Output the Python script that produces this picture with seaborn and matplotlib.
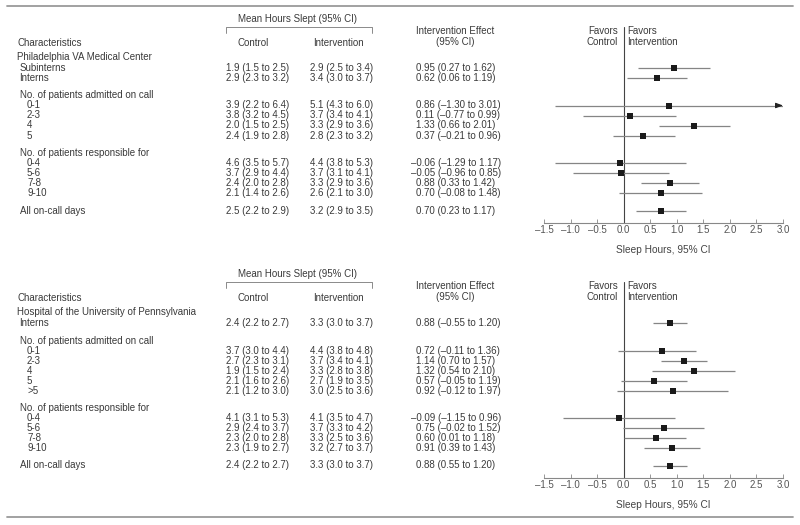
import numpy as np
import pandas as pd
import matplotlib
matplotlib.use("Agg")
import matplotlib.pyplot as plt
import seaborn as sns

# %% Data
va_name = "Philadelphia VA Medical Center"
va_groups = [
    (None, ["Subinterns", "Interns"]),
    ("No. of patients admitted on call", ["0-1", "2-3", "4", "5"]),
    ("No. of patients responsible for", ["0-4", "5-6", "7-8", "9-10"]),
    (None, ["All on-call days"]),
]
va_control = ["1.9 (1.5 to 2.5)", "2.9 (2.3 to 3.2)",
              "3.9 (2.2 to 6.4)", "3.8 (3.2 to 4.5)", "2.0 (1.5 to 2.5)", "2.4 (1.9 to 2.8)",
              "4.6 (3.5 to 5.7)", "3.7 (2.9 to 4.4)", "2.4 (2.0 to 2.8)", "2.1 (1.4 to 2.6)",
              "2.5 (2.2 to 2.9)"]
va_intervention = ["2.9 (2.5 to 3.4)", "3.4 (3.0 to 3.7)",
                   "5.1 (4.3 to 6.0)", "3.7 (3.4 to 4.1)", "3.3 (2.9 to 3.6)", "2.8 (2.3 to 3.2)",
                   "4.4 (3.8 to 5.3)", "3.7 (3.1 to 4.1)", "3.3 (2.9 to 3.6)", "2.6 (2.1 to 3.0)",
                   "3.2 (2.9 to 3.5)"]
va_effect_text = ["0.95 (0.27 to 1.62)", "0.62 (0.06 to 1.19)",
                  "0.86 (–1.30 to 3.01)", "0.11 (–0.77 to 0.99)", "1.33 (0.66 to 2.01)",
                  "0.37 (–0.21 to 0.96)",
                  "–0.06 (–1.29 to 1.17)", "–0.05 (–0.96 to 0.85)", "0.88 (0.33 to 1.42)",
                  "0.70 (–0.08 to 1.48)",
                  "0.70 (0.23 to 1.17)"]
va_est = [0.95, 0.62, 0.86, 0.11, 1.33, 0.37, -0.06, -0.05, 0.88, 0.70, 0.70]
va_lo = [0.27, 0.06, -1.30, -0.77, 0.66, -0.21, -1.29, -0.96, 0.33, -0.08, 0.23]
va_hi = [1.62, 1.19, 3.01, 0.99, 2.01, 0.96, 1.17, 0.85, 1.42, 1.48, 1.17]

penn_name = "Hospital of the University of Pennsylvania"
penn_groups = [
    (None, ["Interns"]),
    ("No. of patients admitted on call", ["0-1", "2-3", "4", "5", ">5"]),
    ("No. of patients responsible for", ["0-4", "5-6", "7-8", "9-10"]),
    (None, ["All on-call days"]),
]
penn_control = ["2.4 (2.2 to 2.7)",
                "3.7 (3.0 to 4.4)", "2.7 (2.3 to 3.1)", "1.9 (1.5 to 2.4)", "2.1 (1.6 to 2.6)",
                "2.1 (1.2 to 3.0)",
                "4.1 (3.1 to 5.3)", "2.9 (2.4 to 3.7)", "2.3 (2.0 to 2.8)", "2.3 (1.9 to 2.7)",
                "2.4 (2.2 to 2.7)"]
penn_intervention = ["3.3 (3.0 to 3.7)",
                     "4.4 (3.8 to 4.8)", "3.7 (3.4 to 4.1)", "3.3 (2.8 to 3.8)", "2.7 (1.9 to 3.5)",
                     "3.0 (2.5 to 3.6)",
                     "4.1 (3.5 to 4.7)", "3.7 (3.3 to 4.2)", "3.3 (2.5 to 3.6)", "3.2 (2.7 to 3.7)",
                     "3.3 (3.0 to 3.7)"]
penn_effect_text = ["0.88 (–0.55 to 1.20)",
                    "0.72 (–0.11 to 1.36)", "1.14 (0.70 to 1.57)", "1.32 (0.54 to 2.10)",
                    "0.57 (–0.05 to 1.19)", "0.92 (–0.12 to 1.97)",
                    "–0.09 (–1.15 to 0.96)", "0.75 (–0.02 to 1.52)", "0.60 (0.01 to 1.18)",
                    "0.91 (0.39 to 1.43)",
                    "0.88 (0.55 to 1.20)"]
penn_est = [0.88, 0.72, 1.14, 1.32, 0.57, 0.92, -0.09, 0.75, 0.60, 0.91, 0.88]
penn_lo = [0.55, -0.11, 0.70, 0.54, -0.05, -0.12, -1.15, -0.02, 0.01, 0.39, 0.55]
penn_hi = [1.20, 1.36, 1.57, 2.10, 1.19, 1.97, 0.96, 1.52, 1.18, 1.43, 1.20]

xticks = [-1.5, -1.0, -0.5, 0.0, 0.5, 1.0, 1.5, 2.0, 2.5, 3.0]

# %% Style
sns.set_theme(style="white")
plt.rcParams['font.family'] = ['Liberation Sans', 'DejaVu Sans']
TXT = "#3a3a3a"
FS = 7

W, H = 800, 525
fig = plt.figure(figsize=(W / 100, H / 100), dpi=100)


def fx(px):
    return px / W


def fy(py):
    return 1 - py / H


def put(x, y, s, **kw):
    kw.setdefault("ha", "left")
    kw.setdefault("va", "center")
    kw.setdefault("fontsize", FS)
    kw.setdefault("color", TXT)
    fig.text(fx(x), fy(y), s, **kw)


def row_positions(groups, y_first, step=10.0, gap=7.5):
    rows = []
    y = y_first
    for i, (header, items) in enumerate(groups):
        if i > 0:
            y += gap
        if header:
            rows.append(("head", header, y))
            y += step
        for lab in items:
            rows.append(("sub" if header else "item", lab, y))
            y += step
    return rows


def draw_panel(base, name, groups, control, intervention, eff_text, est, lo, hi):
    # column headers
    put(298, base + 19, "Mean Hours Slept (95% CI)", ha="center")
    fig.add_artist(plt.Line2D([fx(226), fx(226), fx(372), fx(372)],
                              [fy(base + 33), fy(base + 26.5), fy(base + 26.5), fy(base + 33)],
                              color="#777777", lw=0.6))
    put(17, base + 42.7, "Characteristics")
    put(253, base + 42.7, "Control", ha="center")
    put(338, base + 42.7, "Intervention", ha="center")
    put(455, base + 31, "Intervention Effect", ha="center")
    put(455, base + 42, "(95% CI)", ha="center")
    put(618, base + 31, "Favors", ha="right")
    put(618, base + 42, "Control", ha="right")
    put(627, base + 31, "Favors")
    put(627, base + 42, "Intervention")
    put(17, base + 57, name)

    rows = row_positions(groups, 68)
    ys = []
    for kind, lab, y in rows:
        put(27 if kind == "sub" else 19.5, base + y, lab)
        if kind != "head":
            ys.append(y)
    for i, y in enumerate(ys):
        put(226, base + y, control[i])
        put(310, base + y, intervention[i])
        s = eff_text[i]
        put(416 - (5 if s.startswith("–") else 0), base + y, s)

    # forest plot axes, y in panel pixel units
    y_top, y_axis = 27, 222.7
    ax = fig.add_axes([fx(544), fy(base + y_axis), fx(783) - fx(544),
                       (y_axis - y_top) / H])
    ax.set_xlim(-1.5, 3.0)
    ax.set_ylim(y_axis, y_top)
    df = pd.DataFrame({"est": est, "lo": lo, "hi": hi, "y": ys})
    xmax = 3.0
    ax.hlines(df["y"], df["lo"], np.minimum(df["hi"], xmax), color="#858585", lw=0.9, zorder=2)
    for _, r in df[df["hi"] > xmax].iterrows():
        ax.annotate("", xy=(xmax, r["y"]), xytext=(xmax - 0.1, r["y"]),
                    arrowprops=dict(arrowstyle="-|>,head_length=0.35,head_width=0.13",
                                    color="#222222", lw=0.8, shrinkA=0, shrinkB=0))
    ax.axvline(0, color="#444444", lw=0.8, zorder=1)
    sns.scatterplot(data=df, x="est", y="y", marker="s", s=22, color="#1a1a1a",
                    linewidth=0, ax=ax, zorder=3, legend=False)

    for side in ["top", "right", "left"]:
        ax.spines[side].set_visible(False)
    ax.spines["bottom"].set_color("#888888")
    ax.spines["bottom"].set_linewidth(0.8)
    ax.set_yticks([])
    ax.set_ylabel("")
    ax.set_xticks(xticks)
    ax.set_xticklabels([f"{t:.1f}".replace("-", "–") for t in xticks])
    ax.tick_params(axis="x", direction="in", length=3, width=0.6, color="#888888",
                   labelsize=FS, labelcolor="#555555", pad=1.5, bottom=True)
    ax.set_xlabel("Sleep Hours, 95% CI", fontsize=FS + 0.3, color="#444444", labelpad=7)
    ax.patch.set_alpha(0)


draw_panel(0, va_name, va_groups, va_control, va_intervention, va_effect_text,
           va_est, va_lo, va_hi)
draw_panel(255, penn_name, penn_groups, penn_control, penn_intervention, penn_effect_text,
           penn_est, penn_lo, penn_hi)

# rules
fig.add_artist(plt.Line2D([fx(7), fx(793)], [fy(6), fy(6)], color="#9a9a9a", lw=1.3))
fig.add_artist(plt.Line2D([fx(7), fx(793)], [fy(517), fy(517)], color="#9a9a9a", lw=1.3))

fig.savefig("out.png", dpi=100)
